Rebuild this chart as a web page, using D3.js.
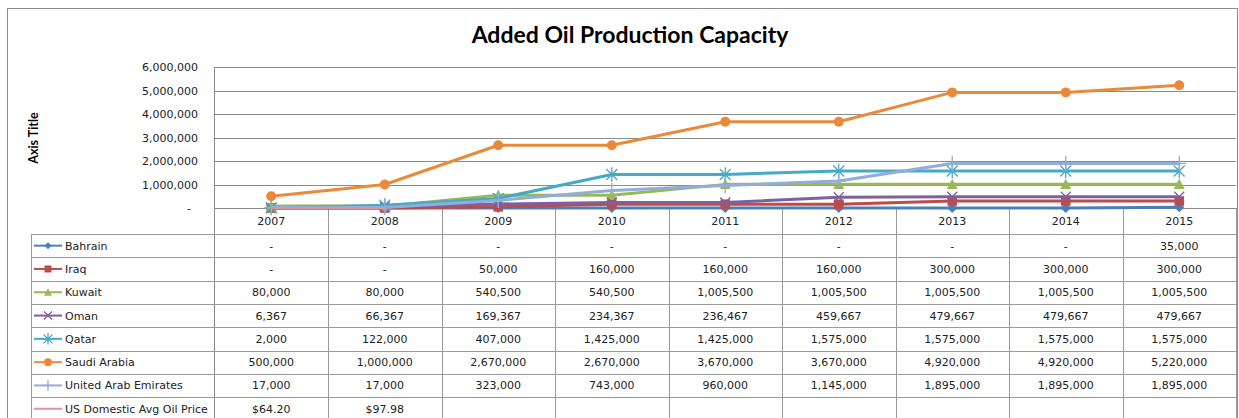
<!DOCTYPE html>
<html>
<head>
<meta charset="utf-8">
<script src="https://cdn.jsdelivr.net/npm/d3@7/dist/d3.min.js"></script>
<style>
  html, body { margin: 0; padding: 0; background: #fff; }
  svg { display: block; }
</style>
</head>
<body>
<svg id="chart" width="1239" height="418"></svg>
<script>
// ---- data ----
const years = ["2007", "2008", "2009", "2010", "2011", "2012", "2013", "2014", "2015"];
const seriesNames = ["Bahrain", "Iraq", "Kuwait", "Oman", "Qatar", "Saudi Arabia", "United Arab Emirates", "US Domestic Avg Oil Price"];
const bahrain = [0, 0, 0, 0, 0, 0, 0, 0, 35000];
const iraq = [0, 0, 50000, 160000, 160000, 160000, 300000, 300000, 300000];
const kuwait = [80000, 80000, 540500, 540500, 1005500, 1005500, 1005500, 1005500, 1005500];
const oman = [6367, 66367, 169367, 234367, 236467, 459667, 479667, 479667, 479667];
const qatar = [2000, 122000, 407000, 1425000, 1425000, 1575000, 1575000, 1575000, 1575000];
const saudiArabia = [500000, 1000000, 2670000, 2670000, 3670000, 3670000, 4920000, 4920000, 5220000];
const uae = [17000, 17000, 323000, 743000, 960000, 1145000, 1895000, 1895000, 1895000];
const usPrice = [64.20, 97.98, null, null, null, null, null, null, null];
const yTicks = [0, 1000000, 2000000, 3000000, 4000000, 5000000, 6000000];
const title = "Added Oil Production Capacity";
const yTitle = "Axis Title";

const seriesValues = [bahrain, iraq, kuwait, oman, qatar, saudiArabia, uae, usPrice];
const colors = ["#4A7EBB", "#BE4B48", "#98B954", "#7D60A0", "#46AAC5", "#E9893A", "#93ACD8", "#D99694"];
const markers = ["diamond", "square", "triangle", "x", "asterisk", "circle", "plus", "none"];

// ---- layout ----
const svg = d3.select("#chart");
const plotL = 214.5, plotR = 1236, plotT = 67, plotB = 208;
const tableL = 31, tableTop = 234, rowH = 23.3;
const gridColor = "#8a8a8a", tableColor = "#9a9a9a";
const numFont = "'DejaVu Sans', Verdana, sans-serif";

const x = d3.scaleBand().domain(years).range([plotL, plotR]);
const y = d3.scaleLinear().domain([0, 6000000]).range([plotB, plotT]);

// outer border
svg.append("rect").attr("x", 7.5).attr("y", 8.5).attr("width", 1230).attr("height", 420)
  .attr("fill", "none").attr("stroke", "#8c8c8c").attr("stroke-width", 1);

// title
svg.append("text").attr("x", 630).attr("y", 43).attr("text-anchor", "middle")
  .attr("font-family", "Lato, 'Open Sans', sans-serif").attr("font-weight", "bold")
  .attr("font-size", 23).attr("fill", "#000").text(title);

// y axis title
svg.append("text").attr("transform", "translate(38,138) rotate(-90)")
  .attr("text-anchor", "middle").attr("font-family", "Lato, 'Open Sans', sans-serif")
  .attr("font-weight", "bold").attr("font-size", 12.5).attr("fill", "#000").text(yTitle);

// gridlines
svg.append("g").selectAll("line").data(yTicks.filter(d => d > 0)).join("line")
  .attr("x1", plotL).attr("x2", plotR)
  .attr("y1", d => Math.round(y(d)) + 0.5).attr("y2", d => Math.round(y(d)) + 0.5)
  .attr("stroke", gridColor).attr("stroke-width", 1);

// y tick labels
const fmt = d3.format(",");
svg.append("g").selectAll("text").data(yTicks).join("text")
  .attr("x", d => d === 0 ? 191 : 198)
  .attr("y", d => y(d) + 4)
  .attr("text-anchor", "end").attr("font-family", numFont).attr("font-size", 11)
  .attr("fill", "#222").text(d => d === 0 ? "-" : fmt(d));

// left plot border
svg.append("line").attr("x1", plotL).attr("x2", plotL).attr("y1", plotT).attr("y2", 418)
  .attr("stroke", gridColor);

// x axis line
svg.append("line").attr("x1", plotL).attr("x2", plotR).attr("y1", plotB + 0.5).attr("y2", plotB + 0.5)
  .attr("stroke", gridColor);

// vertical table lines at band boundaries
const bounds = years.map(d => x(d)).concat([plotR]);
svg.append("g").selectAll("line").data(bounds.slice(1)).join("line")
  .attr("x1", d => Math.round(d) + 0.5).attr("x2", d => Math.round(d) + 0.5)
  .attr("y1", plotB).attr("y2", 418).attr("stroke", tableColor);

// table left border
svg.append("line").attr("x1", tableL + 0.5).attr("x2", tableL + 0.5).attr("y1", tableTop).attr("y2", 418)
  .attr("stroke", tableColor);

// row lines
const rowLines = d3.range(seriesNames.length + 1).map(i => tableTop + i * rowH);
svg.append("g").selectAll("line").data(rowLines).join("line")
  .attr("x1", tableL).attr("x2", plotR + 0.5)
  .attr("y1", d => Math.round(d) + 0.5).attr("y2", d => Math.round(d) + 0.5)
  .attr("stroke", tableColor);

// category labels
svg.append("g").selectAll("text").data(years).join("text")
  .attr("x", d => x(d) + x.bandwidth() / 2).attr("y", 225)
  .attr("text-anchor", "middle").attr("font-family", numFont).attr("font-size", 11)
  .attr("fill", "#222").text(d => d);

// marker path helper
function markerPath(type, s) {
  switch (type) {
    case "diamond": return `M0,${-s}L${s},0L0,${s}L${-s},0Z`;
    case "square": return `M${-s},${-s}H${s}V${s}H${-s}Z`;
    case "triangle": return `M0,${-s}L${s},${s * 0.85}L${-s},${s * 0.85}Z`;
    case "x": return `M${-s},${-s}L${s},${s}M${-s},${s}L${s},${-s}`;
    case "asterisk": return `M${-s},${-s}L${s},${s}M${-s},${s}L${s},${-s}M0,${-s * 1.3}L0,${s * 1.3}`;
    case "plus": return `M${-s},0H${s}M0,${-s * 1.1}V${s * 1.1}`;
    default: return "";
  }
}
const strokeMarkers = new Set(["x", "asterisk", "plus"]);

function drawMarker(g, type, color, cx, cy, s) {
  if (type === "none") return;
  if (type === "circle") {
    g.append("circle").attr("cx", cx).attr("cy", cy).attr("r", s).attr("fill", color);
  } else if (strokeMarkers.has(type)) {
    g.append("path").attr("d", markerPath(type, s)).attr("transform", `translate(${cx},${cy})`)
      .attr("fill", "none").attr("stroke", color).attr("stroke-width", 1.3);
  } else {
    g.append("path").attr("d", markerPath(type, s)).attr("transform", `translate(${cx},${cy})`)
      .attr("fill", color);
  }
}

// series lines
const line = d3.line()
  .defined(d => d.v !== null)
  .x(d => x(d.year) + x.bandwidth() / 2)
  .y(d => y(d.v));

const linesG = svg.append("g");
seriesValues.forEach((vals, i) => {
  const pts = vals.map((v, j) => ({ year: years[j], v }));
  const g = linesG.append("g");
  g.append("path").attr("d", line(pts)).attr("fill", "none")
    .attr("stroke", colors[i]).attr("stroke-width", i === 7 ? 2 : 3)
    .attr("stroke-linejoin", "round");
  const sz = { diamond: 5, square: 4.8, triangle: 5.5, x: 5, asterisk: 5.5, circle: 5, plus: 7 }[markers[i]];
  pts.filter(p => p.v !== null).forEach(p => {
    drawMarker(g, markers[i], colors[i], x(p.year) + x.bandwidth() / 2, y(p.v), sz);
  });
});

// table rows: legend keys, names, values
const cellFmt = (v, i) => {
  if (v === null) return "";
  if (i === 7) return "$" + d3.format(".2f")(v);
  return v === 0 ? "-" : fmt(v);
};
seriesNames.forEach((name, i) => {
  const cy = tableTop + i * rowH + rowH / 2;
  const g = svg.append("g");
  g.append("line").attr("x1", 34).attr("x2", 62).attr("y1", cy).attr("y2", cy)
    .attr("stroke", colors[i]).attr("stroke-width", 2);
  const ksz = { diamond: 3.5, square: 3.5, triangle: 4, x: 4, asterisk: 4.5, circle: 4, plus: 5 }[markers[i]];
  drawMarker(g, markers[i], colors[i], 48, cy, ksz);
  g.append("text").attr("x", 65).attr("y", cy + 4).attr("font-family", numFont)
    .attr("font-size", 11).attr("fill", "#222").text(name);
  seriesValues[i].forEach((v, j) => {
    g.append("text").attr("x", x(years[j]) + x.bandwidth() / 2).attr("y", cy + 4)
      .attr("text-anchor", "middle").attr("font-family", numFont).attr("font-size", 11)
      .attr("fill", "#222").text(cellFmt(v, i));
  });
});
</script>
</body>
</html>
